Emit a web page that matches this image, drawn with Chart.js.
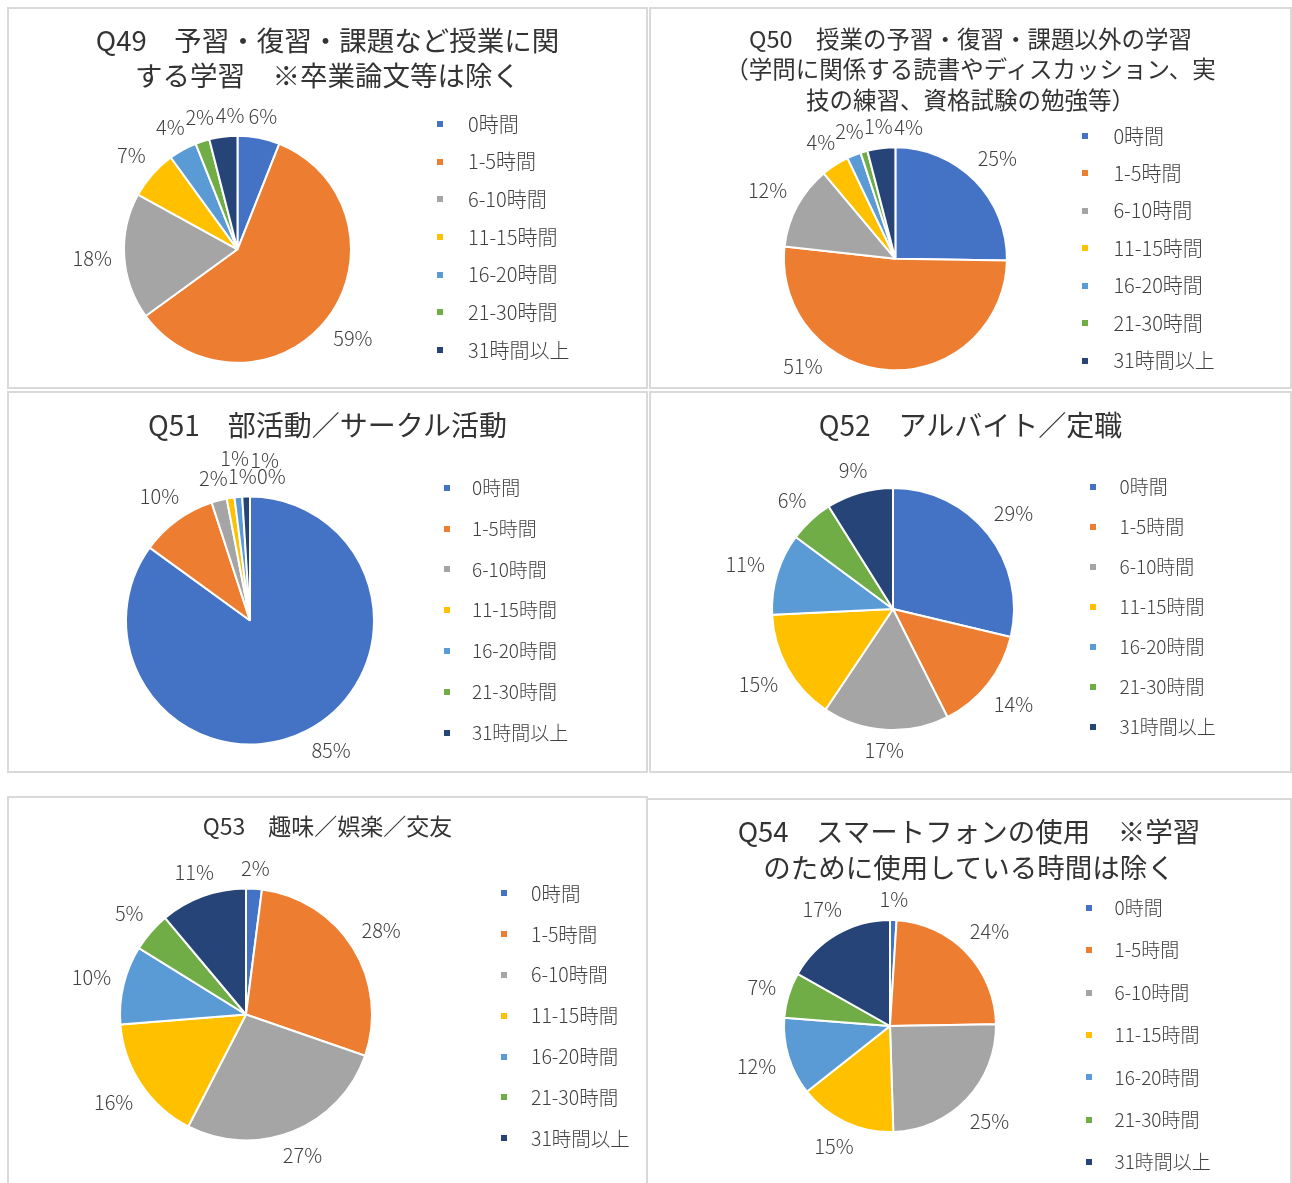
<!DOCTYPE html>
<html lang="ja">
<head>
<meta charset="utf-8">
<title>1週間あたりの時間の使い方（Q49〜Q54）</title>
<script src="https://cdn.jsdelivr.net/npm/chart.js@4.4.1/dist/chart.umd.min.js"></script>
<style>
  html, body { margin: 0; padding: 0; background: #fff; }
  body { width: 1292px; height: 1183px; position: relative; overflow: hidden; }
  .panel { position: absolute; box-sizing: border-box; border: 2px solid #d9d9d9; background: #fff; }
  .panel canvas { position: absolute; left: 0; top: 0; }
  .panel .title {
    position: absolute; left: 0; right: 0; margin: 0;
    text-align: center; white-space: pre; color: #333;
    font-family: 'Noto Sans CJK JP', 'Noto Sans', sans-serif; font-weight: 400;
  }
</style>
</head>
<body>
<script>
// 回答区分（凡例）と系列色
const timeLabels = ['0時間', '1-5時間', '6-10時間', '11-15時間', '16-20時間', '21-30時間', '31時間以上'];
const sliceColors = ['#4472C4', '#ED7D31', '#A5A5A5', '#FFC000', '#5B9BD5', '#70AD47', '#264478'];

// 各設問の回答割合（%）
const q49Values = [6, 59, 18, 7, 4, 2, 4];
const q50Values = [25, 51, 12, 4, 2, 1, 4];
const q51Values = [85, 10, 2, 1, 1, 0, 1];
const q52Values = [29, 14, 17, 15, 11, 6, 9];
const q53Values = [2, 28, 27, 16, 10, 5, 11];
const q54Values = [1, 24, 25, 15, 12, 7, 17];

const FONT_FAMILY = "'Noto Sans CJK JP', 'Noto Sans', sans-serif";
const FONT_WEIGHT = 300;
const TEXT_COLOR = '#404040';

// パネルごとの配置（ページ座標）
const panels = [
  {
    values: q49Values,
    title: ['Q49　予習・復習・課題など授業に関', 'する学習　※卒業論文等は除く'],
    box: { x: 7, y: 7, w: 641, h: 382 },
    heading: { size: 27.5, line: 35.5, y: 41 },
    pie: { x: 237.5, y: 249.3, r: 113.5 },
    legend: { x: 440, textX: 468, y: 124, row: 37.67, size: 20 }
  },
  {
    values: q50Values,
    title: ['Q50　授業の予習・復習・課題以外の学習', '（学問に関係する読書やディスカッション、実', '技の練習、資格試験の勉強等）'],
    box: { x: 649, y: 7, w: 643, h: 382 },
    heading: { size: 23.5, line: 30.5, y: 39.2 },
    pie: { x: 895.4, y: 258.8, r: 111.5 },
    legend: { x: 1084.5, textX: 1113.4, y: 136, row: 37.45, size: 20 }
  },
  {
    values: q51Values,
    title: ['Q51　部活動／サークル活動'],
    box: { x: 7, y: 391, w: 641, h: 382 },
    heading: { size: 28, line: 35, y: 425.8 },
    pie: { x: 250, y: 620.5, r: 124 },
    legend: { x: 447, textX: 472, y: 487.7, row: 40.8, size: 19 }
  },
  {
    values: q52Values,
    title: ['Q52　アルバイト／定職'],
    box: { x: 649, y: 391, w: 643, h: 382 },
    heading: { size: 28, line: 35, y: 425.8 },
    pie: { x: 893, y: 609, r: 121 },
    legend: { x: 1093, textX: 1119.5, y: 486.7, row: 40, size: 19 }
  },
  {
    values: q53Values,
    title: ['Q53　趣味／娯楽／交友'],
    box: { x: 7, y: 796, w: 641, h: 400 },
    heading: { size: 23, line: 30, y: 826.7 },
    pie: { x: 246, y: 1014.5, r: 126 },
    legend: { x: 504, textX: 531, y: 893.3, row: 40.83, size: 19.5 }
  },
  {
    values: q54Values,
    title: ['Q54　スマートフォンの使用　※学習', 'のために使用している時間は除く'],
    box: { x: 646, y: 798, w: 646, h: 400 },
    heading: { size: 27.5, line: 36.6, y: 831.7 },
    pie: { x: 890, y: 1026, r: 106 },
    legend: { x: 1089, textX: 1114.5, y: 907.7, row: 42.4, size: 19 }
  }
];

// 凡例マーカー（小さな正方形）
function markerImage(color, size) {
  const c = document.createElement('canvas');
  c.width = size;
  c.height = size;
  const g = c.getContext('2d');
  g.fillStyle = color;
  g.fillRect(0, 0, size, size);
  return c;
}
const markers = sliceColors.map(c => markerImage(c, 6));

// ラベル枠の最近点が円周から minDist 離れるまで外側へ
function outsidePoint(cx, cy, angle, minDist, w, h) {
  const ux = Math.cos(angle), uy = Math.sin(angle);
  for (let d = 0; d < minDist + 120; d += 0.5) {
    const px = d * ux, py = d * uy;
    const ex = Math.max(Math.abs(px) - w / 2, 0);
    const ey = Math.max(Math.abs(py) - h / 2, 0);
    if (Math.hypot(ex, ey) >= minDist) return { x: cx + px, y: cy + py };
  }
  return { x: cx + minDist * ux, y: cy + minDist * uy };
}

// 円の外側にパーセント表示（重なりは角度・距離をずらして回避）
const outsideLabels = {
  id: 'outsideLabels',
  afterDatasetsDraw(chart, args, opts) {
    const ctx = chart.ctx;
    const values = chart.data.datasets[0].data;
    const arcs = chart.getDatasetMeta(0).data;
    const placed = [];
    ctx.save();
    ctx.font = `${FONT_WEIGHT} ${opts.size}px ${FONT_FAMILY}`;
    ctx.fillStyle = opts.color;
    ctx.textAlign = 'center';
    ctx.textBaseline = 'middle';
    arcs.forEach((arc, i) => {
      const text = values[i] + '%';
      const w = ctx.measureText(text).width;
      const h = opts.size * 0.8;
      const mid = (arc.startAngle + arc.endAngle) / 2;
      const base = arc.outerRadius + opts.gap;
      let best = null;
      let bestCost = Infinity;
      for (let step = 0; step <= 100; step++) {
        const deg = step === 0 ? 0 : (step % 2 ? (step + 1) / 2 : -step / 2);
        const a = mid + deg * Math.PI / 180;
        for (let extra = 0; extra <= 40; extra += 2) {
          const cost = Math.abs(deg) * Math.PI / 180 * base + extra;
          if (cost >= bestCost) break;
          const p = outsidePoint(arc.x, arc.y, a, base + extra, w, h);
          const box = { l: p.x - w / 2, r: p.x + w / 2, t: p.y - h / 2, b: p.y + h / 2, x: p.x, y: p.y };
          if (box.b > opts.maxY || box.t < opts.minY) continue;
          if (placed.some(o => o.l < box.r && box.l < o.r && o.t < box.b && box.t < o.b)) continue;
          best = box;
          bestCost = cost;
        }
      }
      if (!best) {
        const p = outsidePoint(arc.x, arc.y, mid, base, w, h);
        best = { l: p.x - w / 2, r: p.x + w / 2, t: p.y - h / 2, b: p.y + h / 2, x: p.x, y: p.y };
      }
      placed.push(best);
      ctx.fillText(text, best.x, best.y);
    });
    ctx.restore();
  }
};

const measureCtx = document.createElement('canvas').getContext('2d');
const LEGEND_TITLE_SPACE = 40;

function drawPanel(cfg) {
  const panel = document.createElement('div');
  panel.className = 'panel';
  Object.assign(panel.style, {
    left: cfg.box.x + 'px', top: cfg.box.y + 'px',
    width: cfg.box.w + 'px', height: cfg.box.h + 'px'
  });
  document.body.appendChild(panel);

  // キャンバス原点は枠線の内側
  const ox = cfg.box.x + 2, oy = cfg.box.y + 2;
  const innerW = cfg.box.w - 4, innerH = cfg.box.h - 4;

  const cx = cfg.pie.x - ox, cy = cfg.pie.y - oy;
  const lg = cfg.legend;
  const labelPad = lg.row - lg.size;
  const boxW = 2 * (lg.textX - lg.x) - lg.size;

  measureCtx.font = `normal ${FONT_WEIGHT} ${lg.size}px ${FONT_FAMILY}`;
  const textW = Math.max(...timeLabels.map(t => measureCtx.measureText(t).width));
  const legendW = labelPad + boxW + lg.size / 2 + textW + 10;
  const legendLeft = lg.x - ox - labelPad - boxW / 2;

  const padL = 2 * cx - legendLeft;
  const padR = innerW - legendLeft - legendW;
  const padT = lg.y - oy - labelPad - lg.size / 2 - LEGEND_TITLE_SPACE;
  const H = Math.max(innerH, Math.ceil(2 * cy - padT));
  const padB = H + padT - 2 * cy;

  const canvas = document.createElement('canvas');
  canvas.width = innerW;
  canvas.height = H;
  panel.appendChild(canvas);

  const heading = document.createElement('div');
  heading.className = 'title';
  heading.textContent = cfg.title.join('\n');
  const hs = cfg.heading;
  Object.assign(heading.style, {
    fontSize: hs.size + 'px',
    lineHeight: hs.line + 'px',
    top: (hs.y - oy - hs.line / 2 - 0.06 * hs.size) + 'px'
  });
  panel.appendChild(heading);

  // 見出しの下端（ラベルはここより下に置く）
  const headingBottom = hs.y - oy + (cfg.title.length - 1) * hs.line + hs.size * 0.55;

  return new Chart(canvas, {
    type: 'pie',
    data: {
      labels: timeLabels,
      datasets: [{
        data: cfg.values,
        backgroundColor: sliceColors,
        borderColor: '#ffffff',
        borderWidth: 2,
        radius: cfg.pie.r,
        hoverOffset: 0
      }]
    },
    options: {
      responsive: false,
      animation: false,
      events: [],
      layout: { padding: { left: padL, right: padR, top: padT, bottom: padB } },
      plugins: {
        title: { display: false },
        tooltip: { enabled: false },
        legend: {
          position: 'right',
          align: 'start',
          title: {
            display: true,
            text: '',
            font: { size: 10, lineHeight: 1 },
            padding: { top: LEGEND_TITLE_SPACE - 10, bottom: 0 }
          },
          labels: {
            usePointStyle: true,
            pointStyleWidth: boxW,
            padding: labelPad,
            color: TEXT_COLOR,
            font: { family: FONT_FAMILY, size: lg.size, weight: FONT_WEIGHT },
            generateLabels(chart) {
              const items = Chart.overrides.doughnut.plugins.legend.labels.generateLabels(chart);
              items.forEach((item, i) => { item.pointStyle = markers[i]; });
              return items;
            }
          }
        },
        outsideLabels: { size: 20, color: TEXT_COLOR, gap: 12, minY: headingBottom + 4, maxY: innerH - 12 }
      }
    },
    plugins: [outsideLabels]
  });
}

panels.forEach(drawPanel);
</script>
</body>
</html>
